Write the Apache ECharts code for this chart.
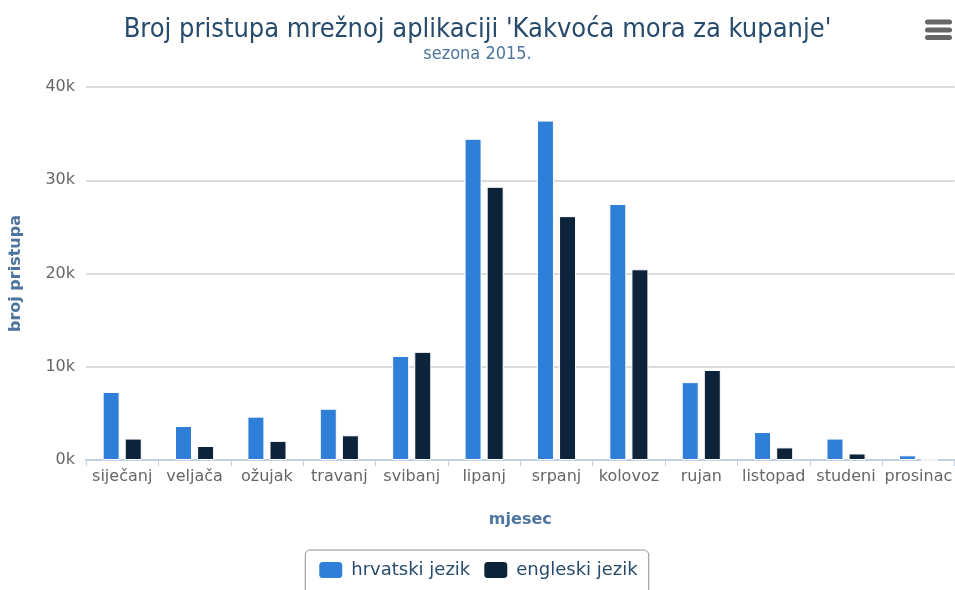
<!DOCTYPE html>
<html>
<head>
<meta charset="utf-8">
<script src="https://cdn.jsdelivr.net/npm/echarts@6/dist/echarts.min.js"></script>
<style>
  html, body { margin: 0; padding: 0; background: #fff; }
  #main { width: 955px; height: 590px; }
</style>
</head>
<body>
<div id="main"></div>
<script>
// podaci - sezona 2015.
var months = ['siječanj', 'veljača', 'ožujak', 'travanj', 'svibanj', 'lipanj', 'srpanj', 'kolovoz', 'rujan', 'listopad', 'studeni', 'prosinac'];
var hrvatski = [7300, 3650, 4650, 5500, 11150, 34450, 36400, 27450, 8350, 3000, 2300, 500];
var engleski = [2300, 1500, 2050, 2650, 11600, 29300, 26150, 20450, 9650, 1350, 700, 0];
var yTicks = [0, 10000, 20000, 30000, 40000];

var chart = echarts.init(document.getElementById('main'));

// ikona izbornika (gore desno)
function menuBar(y) {
  return {
    type: 'rect',
    shape: { x: 925, y: y, width: 27, height: 5, r: 2.5 },
    style: { fill: '#666' }
  };
}

var option = {
  color: ['#2f7ed8', '#0d233a'],
  animation: false,
  title: {
    text: "Broj pristupa mrežnoj aplikaciji 'Kakvoća mora za kupanje'",
    subtext: 'sezona 2015.',
    left: 'center',
    top: 11,
    itemGap: 2,
    textStyle: { color: '#274b6d', fontSize: 27, fontWeight: 'normal', fontFamily: 'DejaVu Sans Condensed' },
    subtextStyle: { color: '#4d759e', fontSize: 18, fontFamily: 'DejaVu Sans Condensed' }
  },
  graphic: [menuBar(19.5), menuBar(27.5), menuBar(35)],
  legend: {
    top: 550,
    left: 'center',
    itemWidth: 25,
    itemHeight: 18,
    itemGap: 12,
    icon: 'roundRect',
    padding: [10, 11, 16, 12],
    borderColor: '#909090',
    borderWidth: 1,
    borderRadius: 5,
    textStyle: { color: '#274b6d', fontSize: 18, fontFamily: 'DejaVu Sans', padding: [0, 0, 0, 3] },
    data: ['hrvatski jezik', 'engleski jezik']
  },
  grid: { left: 80, right: 0, top: 87, bottom: 130, containLabel: false },
  xAxis: {
    type: 'category',
    data: months,
    name: 'mjesec',
    nameLocation: 'middle',
    nameGap: 52,
    nameTextStyle: { color: '#4d759e', fontWeight: 'bold', fontSize: 16, fontFamily: 'DejaVu Sans' },
    axisLine: { lineStyle: { color: '#C0D0E0', width: 2 } },
    axisTick: { show: true, length: 6, lineStyle: { color: '#C0D0E0', width: 1 } },
    axisLabel: { color: '#666', fontSize: 16, margin: 9, fontFamily: 'DejaVu Sans', interval: 0 }
  },
  yAxis: {
    type: 'value',
    min: yTicks[0],
    max: yTicks[yTicks.length - 1],
    interval: yTicks[1] - yTicks[0],
    name: 'broj pristupa',
    nameLocation: 'middle',
    nameGap: 62,
    nameRotate: 90,
    nameTextStyle: { color: '#4d759e', fontWeight: 'bold', fontSize: 16, fontFamily: 'DejaVu Sans' },
    axisLine: { show: false },
    axisTick: { show: false },
    axisLabel: {
      color: '#666',
      fontSize: 16,
      margin: 11,
      fontFamily: 'DejaVu Sans',
      formatter: function (v) { return (v / 1000) + 'k'; }
    },
    splitLine: { lineStyle: { color: '#dcdcdc', width: 2 } }
  },
  series: [
    {
      name: 'hrvatski jezik',
      type: 'bar',
      data: hrvatski,
      barWidth: 17,
      barGap: '30%',
      itemStyle: { borderColor: '#fff', borderWidth: 1 }
    },
    {
      name: 'engleski jezik',
      type: 'bar',
      data: engleski,
      barWidth: 17,
      itemStyle: { borderColor: '#fff', borderWidth: 1 }
    }
  ]
};

chart.setOption(option);
</script>
</body>
</html>
